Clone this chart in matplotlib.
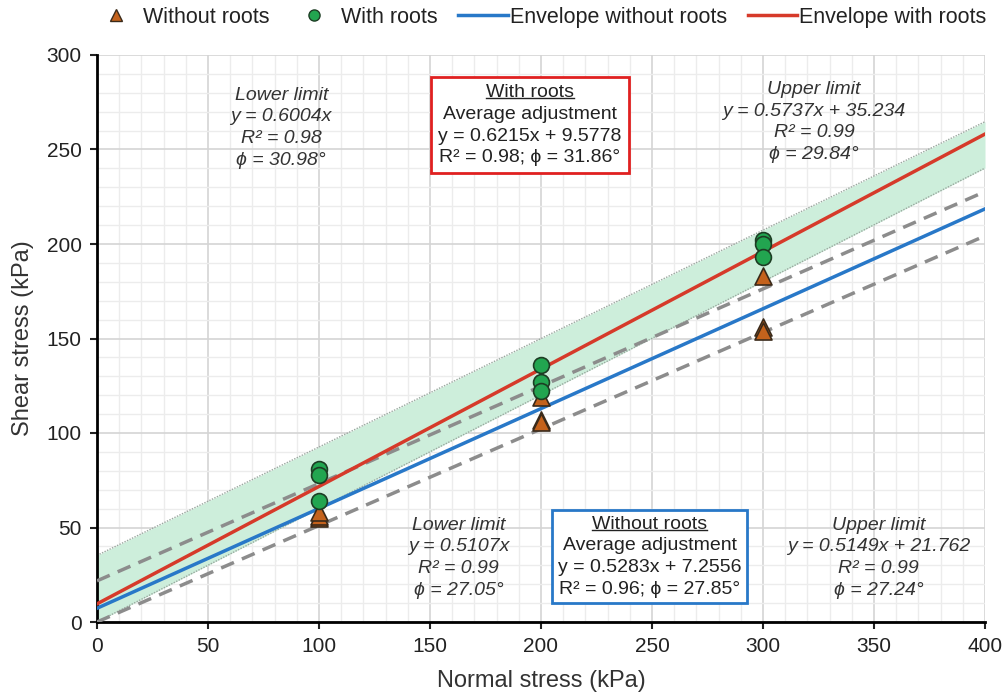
import matplotlib
matplotlib.use("Agg")
import matplotlib.pyplot as plt
import numpy as np
from matplotlib.lines import Line2D

plt.rcParams['font.family'] = ['Liberation Sans', 'DejaVu Sans']

# ---- data ----
normal_without = [100, 100, 100, 200, 200, 200, 300, 300, 300]
shear_without = [55, 56, 58, 119, 107, 106, 183, 156, 154]
normal_with = [100, 100, 100, 200, 200, 200, 300, 300, 300]
shear_with = [81, 78, 64, 136, 127, 122, 202, 200, 193]

# fitted envelopes (slope, intercept)
env_with = (0.6215, 9.5778)
env_without = (0.5283, 7.2556)
lim_with_low = (0.6004, 0.0)
lim_with_up = (0.5737, 35.234)
lim_without_low = (0.5107, 0.0)
lim_without_up = (0.5149, 21.762)

x_ticks = [0, 50, 100, 150, 200, 250, 300, 350, 400]
y_ticks = [0, 50, 100, 150, 200, 250, 300]

fig = plt.figure(figsize=(10.03, 7.0), dpi=100)
ax = fig.add_axes([97/1003, 1-622/700, (985-97)/1003, (622-55)/700])

xs = np.array([0, 400])
def line(p):
    return p[0]*xs + p[1]

# band
ax.fill_between(xs, line(lim_with_low), line(lim_with_up), color='#cdeedb', zorder=1, lw=0)
ax.plot(xs, line(lim_with_low), color='#9aa89f', lw=1.0, ls=(0, (1, 1)), zorder=2)
ax.plot(xs, line(lim_with_up), color='#9aa89f', lw=1.0, ls=(0, (1, 1)), zorder=2)

# gray dashed limits without roots
ax.plot(xs, line(lim_without_low), color='#8c8c8c', lw=2.5, ls=(0, (4, 2.5)), zorder=3)
ax.plot(xs, line(lim_without_up), color='#8c8c8c', lw=2.5, ls=(0, (4, 2.5)), zorder=3)

# envelopes
ax.plot(xs, line(env_without), color='#2878c8', lw=2.5, zorder=4)
ax.plot(xs, line(env_with), color='#d63a2a', lw=2.5, zorder=4)

# points
ax.scatter(normal_without, shear_without, marker='^', s=150, facecolor='#c4621c',
           edgecolor='#3a2a1a', linewidth=1.2, zorder=5)
ax.scatter(normal_with, shear_with, marker='o', s=130, facecolor='#22a550',
           edgecolor='#1d3d24', linewidth=1.2, zorder=6)

ax.set_xlim(0, 400)
ax.set_ylim(0, 300)
ax.set_xticks(x_ticks)
ax.set_yticks(y_ticks)
ax.set_xticks(np.arange(0, 401, 10), minor=True)
ax.set_yticks(np.arange(0, 301, 10), minor=True)
ax.grid(which='major', color='#d4d4d4', lw=1.2, zorder=0)
ax.grid(which='minor', color='#ececec', lw=1.0, zorder=0)
ax.set_axisbelow(True)
for s in ['top', 'right']:
    ax.spines[s].set_visible(False)
for s in ['left', 'bottom']:
    ax.spines[s].set_linewidth(2.0)
ax.tick_params(which='major', direction='out', length=5, width=1.5, labelsize=15,
               colors='#222222', pad=6)
ax.tick_params(which='minor', length=0)
ax.set_xlabel('Normal stress (kPa)', fontsize=17, color='#333333', labelpad=10)
ax.set_ylabel('Shear stress (kPa)', fontsize=17, color='#333333', labelpad=9)

# italic annotations
fs = 14
ls_ = 1.36
tkw = dict(ha='center', va='top', fontsize=fs, style='italic', color='#333333',
           linespacing=ls_, zorder=7)
ax.text(83, 283.3, 'Lower limit\ny = 0.6004x\nR² = 0.98\nϕ = 30.98°', **tkw)
ax.text(323, 286.3, 'Upper limit\ny = 0.5737x + 35.234\nR² = 0.99\nϕ = 29.84°', **tkw)
ax.text(163, 55.8, 'Lower limit\ny = 0.5107x\nR² = 0.99\nϕ = 27.05°', **tkw)
ax.text(352, 55.8, 'Upper limit\ny = 0.5149x + 21.762\nR² = 0.99\nϕ = 27.24°', **tkw)

# boxed annotations
bkw = dict(ha='center', va='top', fontsize=fs, color='#222222', linespacing=ls_, zorder=8)
t1 = ax.text(195, 284.5, 'With roots\nAverage adjustment\ny = 0.6215x + 9.5778\nR² = 0.98; ϕ = 31.86°',
             bbox=dict(boxstyle='square,pad=0.36', fc='white', ec='#e02020', lw=2), **bkw)
t2 = ax.text(249, 56.3, 'Without roots\nAverage adjustment\ny = 0.5283x + 7.2556\nR² = 0.96; ϕ = 27.85°',
             bbox=dict(boxstyle='square,pad=0.3', fc='white', ec='#2878c8', lw=2), **bkw)

# underline the headers
fig.canvas.draw()
r = fig.canvas.get_renderer()
for t, title in [(t1, 'With roots'), (t2, 'Without roots')]:
    ext = t.get_window_extent(r)
    tmp = ax.text(0, 0, title, fontsize=fs)
    text_ext = tmp.get_window_extent(r)
    w, h = text_ext.width, text_ext.height
    tmp.remove()
    cx = (ext.x0 + ext.x1) / 2
    yl = ext.y1 - h * 0.82
    inv = fig.transFigure.inverted()
    (fx0, fy), (fx1, _) = inv.transform([(cx - w/2, yl), (cx + w/2, yl)])
    fig.add_artist(Line2D([fx0, fx1], [fy, fy], color='#222222', lw=1.0, zorder=10))

# legend
handles = [
    Line2D([], [], marker='^', ls='none', markersize=8, markerfacecolor='#c4621c', markeredgecolor='#3a2a1a'),
    Line2D([], [], marker='o', ls='none', markersize=8, markerfacecolor='#22a550', markeredgecolor='#1d3d24'),
    Line2D([], [], color='#2878c8', lw=2.5),
    Line2D([], [], color='#d63a2a', lw=2.5),
]
labels = ['Without roots', 'With roots', 'Envelope without roots', 'Envelope with roots']
fig.legend(handles, labels, loc='upper right', bbox_to_anchor=(1.003, 1.018), ncol=4, frameon=False,
           fontsize=15.5, handlelength=2.3, handletextpad=0.1, columnspacing=0.95,
           labelcolor='#222222')

fig.savefig('out.png', dpi=100)
